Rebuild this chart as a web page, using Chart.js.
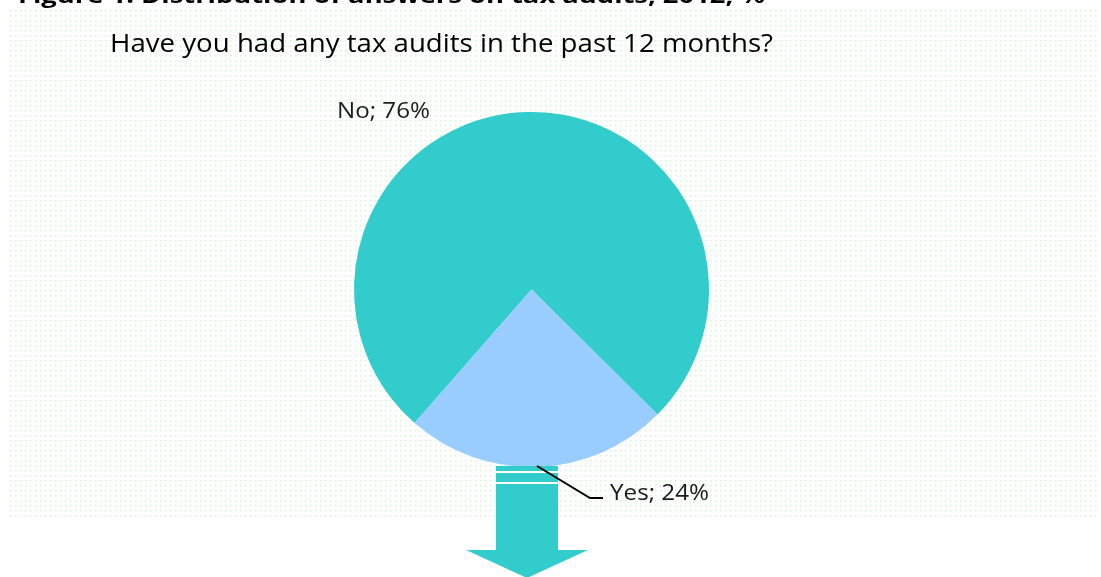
<!DOCTYPE html>
<html>
<head>
<meta charset="utf-8">
<script src="https://cdn.jsdelivr.net/npm/chart.js@4.4.1/dist/chart.umd.min.js"></script>
<style>
    html, body { margin: 0; padding: 0; background: #fff; }
    #chart-container { width: 1101px; height: 577px; position: relative; }
</style>
</head>
<body>
<div id="chart-container">
    <canvas id="auditPie"></canvas>
</div>
<script>
    const labels = ['No', 'Yes'];
    const shares = [76, 24];
    const sliceColors = ['#33CCCC', '#99CCFF'];
    const figureTitle = 'Figure 1: Distribution of answers on tax audits, 2012, %';
    const question = 'Have you had any tax audits in the past 12 months?';

    // draw text squeezed/stretched to a given width (Calibri-like proportions)
    function fitText(ctx, text, x, y, width, font, color) {
        ctx.save();
        ctx.font = font;
        ctx.fillStyle = color;
        ctx.textBaseline = 'alphabetic';
        const w = ctx.measureText(text).width;
        ctx.translate(x, y);
        ctx.scale(width / w, 1);
        ctx.fillText(text, 0, 0);
        ctx.restore();
    }

    const dottedBackground = {
        id: 'dottedBackground',
        beforeDraw(chart) {
            const ctx = chart.ctx;
            ctx.save();
            ctx.fillStyle = '#ffffff';
            ctx.fillRect(0, 0, chart.width, chart.height);
            ctx.fillStyle = '#d2f6d2';
            for (let y = 10; y <= 519; y += 5) {
                for (let x = 10; x <= 1096; x += 5) {
                    ctx.fillRect(x, y, 1.5, 1.5);
                }
            }
            ctx.restore();
        }
    };

    const decorations = {
        id: 'decorations',
        afterDraw(chart) {
            const ctx = chart.ctx;
            const arcs = chart.getDatasetMeta(0).data;
            const cx = arcs[0].x, cy = arcs[0].y, r = arcs[0].outerRadius;
            const bottom = cy + r;

            // down arrow under the pie
            const ax = cx - 4.5;
            ctx.save();
            ctx.fillStyle = '#33CCCC';
            ctx.fillRect(ax - 31, bottom - 1, 62, 5);
            ctx.fillRect(ax - 31, bottom + 6, 62, 9);
            ctx.fillRect(ax - 31, bottom + 17, 62, 67);
            ctx.beginPath();
            ctx.moveTo(ax - 61, bottom + 83);
            ctx.lineTo(ax + 61, bottom + 83);
            ctx.lineTo(ax, bottom + 111);
            ctx.closePath();
            ctx.fill();

            // leader line for the small slice
            ctx.strokeStyle = '#000000';
            ctx.lineWidth = 2;
            ctx.beginPath();
            ctx.moveTo(cx + 5.5, bottom - 1);
            ctx.lineTo(cx + 58.5, bottom + 31);
            ctx.lineTo(cx + 71.5, bottom + 31);
            ctx.stroke();
            ctx.restore();

            // slice labels
            fitText(ctx, labels[0] + '; ' + shares[0] + '%', cx - 194.5, cy - 171.5, 93,
                '22px "Open Sans"', '#1a1a1a');
            fitText(ctx, labels[1] + '; ' + shares[1] + '%', cx + 78.5, cy + 210.5, 99,
                '22px "Open Sans"', '#1a1a1a');

            // titles
            fitText(ctx, question, 110, 52, 663, '25px "Open Sans"', '#000000');
            fitText(ctx, figureTitle, 18, 3, 747, 'bold 22px "Open Sans"', '#000000');
        }
    };

    const ctx = document.getElementById('auditPie').getContext('2d');
    const auditPie = new Chart(ctx, {
        type: 'pie',
        data: {
            labels: labels,
            datasets: [{
                data: shares,
                backgroundColor: sliceColors,
                borderWidth: 0
            }]
        },
        options: {
            responsive: true,
            maintainAspectRatio: false,
            animation: false,
            rotation: 221.2,
            layout: {
                padding: { top: 112, bottom: 110, left: 354, right: 392 }
            },
            plugins: {
                legend: { display: false },
                tooltip: { enabled: false }
            }
        },
        plugins: [dottedBackground, decorations]
    });
</script>
</body>
</html>
